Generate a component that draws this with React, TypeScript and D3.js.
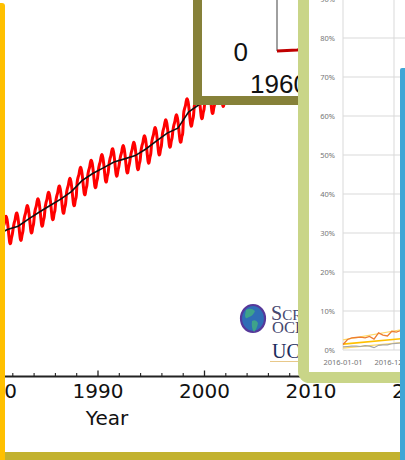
import React from 'react';
import * as d3 from 'd3';

const W = 405;
const H = 460;

// Keeling curve (Mauna Loa) – annual means + mean seasonal cycle
const co2Years = [1980, 1981, 1982, 1983, 1984, 1985, 1986, 1987, 1988, 1989, 1990, 1991, 1992, 1993, 1994, 1995, 1996, 1997, 1998, 1999, 2000, 2001, 2002, 2003, 2004, 2005];
const co2AnnualMean = [338.91, 340.11, 340.86, 342.53, 344.07, 345.54, 346.97, 348.68, 351.16, 352.78, 354.05, 355.39, 356.09, 356.83, 358.33, 360.17, 361.93, 363.05, 366.7, 368.38, 369.55, 371.14, 373.28, 375.8, 377.52, 379.8];
const co2Seasonal = [-0.4, 0.7, 1.4, 2.5, 3.0, 2.3, 0.8, -1.2, -2.9, -3.1, -1.9, -1.0];
const keelingMajorTicks = [1980, 1990, 2000, 2010, 2020];
const keelingMinorTicks = [1982, 1984, 1986, 1988, 1992, 1994, 1996, 1998, 2002, 2004, 2006, 2008, 2012, 2014, 2016, 2018];

// Inset chart
const insetYears = [1960, 1962, 1964, 1966, 1968];
const insetValues = [0, 0.2, 0.5, 1.0, 1.5];
const insetYTicks = [0];
const insetXTicks = [1960];

// Share chart (percent)
const shareDates = ['2016-01-01', '2016-02-01', '2016-03-01', '2016-04-01', '2016-05-01', '2016-06-01', '2016-07-01', '2016-08-01', '2016-09-01', '2016-10-01', '2016-11-01', '2016-12-01', '2017-01-01', '2017-02-01'];
const shareOrange = [1.4, 2.7, 3.1, 3.2, 3.3, 3.1, 3.5, 2.8, 4.4, 3.8, 3.6, 4.8, 4.6, 5.0];
const shareGray = [0.8, 0.9, 1.0, 1.0, 0.9, 1.1, 1.0, 0.6, 1.2, 1.3, 1.3, 1.6, 1.7, 1.8];
const trendDates = ['2016-01-01', '2017-02-01'];
const trendMid = [1.5, 2.9];
const trendUpper = [2.6, 5.2];
const trendLower = [0.5, 1.9];
const pctTicks = [0, 10, 20, 30, 40, 50, 60, 70, 80, 90];
const dateTicks = ['2016-01-01', '2016-12-16'];

export default function App() {
  // Keeling scales
  const kx = d3.scaleLinear().domain([1980, 2020]).range([-8.5, 417.5]);
  const ky = d3.scaleLinear().domain([340, 370]).range([230, 97.4]);
  const axisY = 376.5;

  const monthly: [number, number][] = [];
  co2Years.forEach((yr, i) => {
    co2Seasonal.forEach((s, m) => {
      monthly.push([yr + (m + 0.5) / 12, co2AnnualMean[i] + s]);
    });
  });
  const annual: [number, number][] = co2Years.map((yr, i) => [yr + 0.5, co2AnnualMean[i]]);
  const redLine = d3.line<[number, number]>().x(d => kx(d[0])).y(d => ky(d[1])).curve(d3.curveCardinal);
  const blackLine = d3.line<[number, number]>().x(d => kx(d[0])).y(d => ky(d[1]));

  // Inset scales
  const ix = d3.scaleLinear().domain([1960, 2020]).range([277, 577]);
  const iy = d3.scaleLinear().domain([0, 10]).range([51, 31]);
  const insetLine = d3.line<number>().x((_, i) => ix(insetYears[i])).y(d => iy(d));

  // Share chart scales
  const parse = d3.timeParse('%Y-%m-%d');
  const sx = d3.scaleTime().domain([parse(dateTicks[0])!, parse(dateTicks[1])!]).range([343, 394]);
  const sy = d3.scaleLinear().domain([0, 90]).range([350, -1]);
  const sLine = (dates: string[], vals: number[]) =>
    d3.line<number>().x((_, i) => sx(parse(dates[i])!)).y(d => sy(d))(vals) || '';

  return (
    <svg width={W} height={H} style={{ position: 'absolute', left: 0, top: 0, background: '#fff' }}>
      <defs>
        <clipPath id="logoClip">
          <rect x={230} y={290} width={68} height={80} />
        </clipPath>
      </defs>
      <rect x={0} y={0} width={W} height={H} fill="#fff" />

      {/* ---------- Keeling curve ---------- */}
      <g>
        <path d={redLine(monthly) || ''} fill="none" stroke="#ff0000" strokeWidth={3} />
        <path d={blackLine(annual) || ''} fill="none" stroke="#111" strokeWidth={1.6} />
        <line x1={0} x2={W} y1={axisY} y2={axisY} stroke="#222" strokeWidth={2} />
        {keelingMajorTicks.map(t => (
          <g key={t}>
            <line x1={kx(t)} x2={kx(t)} y1={axisY} y2={axisY - 6} stroke="#222" strokeWidth={1.3} />
            <text x={kx(t)} y={398} textAnchor="middle" fontFamily="DejaVu Sans" fontSize={20} fill="#111">{t}</text>
          </g>
        ))}
        {keelingMinorTicks.map(t => (
          <line key={t} x1={kx(t)} x2={kx(t)} y1={axisY} y2={axisY - 3.5} stroke="#222" strokeWidth={1.1} />
        ))}
        <text x={107} y={425} textAnchor="middle" fontFamily="DejaVu Sans" fontSize={20} fill="#111">Year</text>

        {/* logo */}
        <g clipPath="url(#logoClip)">
          <ellipse cx={253} cy={318.5} rx={12} ry={13.5} fill="#2f6db6" stroke="#56389a" strokeWidth={2.2} />
          <path d="M246,310 q5,-3 9,1 q-2,5 -6,6 q-4,3 -4,-2 z" fill="#3ea38a" />
          <path d="M252,321 q4,-2 6,2 q-1,6 -4,9 q-3,-4 -2,-11 z" fill="#3ea38a" />
          <text x={271} y={320} fontFamily="Liberation Serif" fill="#45476f">
            <tspan fontSize={20}>S</tspan><tspan fontSize={15}>CR</tspan>
          </text>
          <text x={272} y={333} fontFamily="Liberation Serif" fontSize={16.5} fill="#45476f">OCE</text>
          <text x={272} y={358} fontFamily="Liberation Serif" fontSize={20} fill="#1c2b5c">UC</text>
          <line x1={270} x2={340} y1={361.5} y2={361.5} stroke="#e8c88a" strokeWidth={1} />
        </g>
      </g>

      {/* ---------- Inset ---------- */}
      <g>
        <rect x={197.5} y={-20} width={220} height={120.5} fill="#fff" stroke="#868139" strokeWidth={9} />
        <line x1={ix(1960)} x2={ix(1960)} y1={0} y2={iy(0)} stroke="#808080" strokeWidth={1.5} />
        <path d={insetLine(insetValues) || ''} fill="none" stroke="#c00000" strokeWidth={3} />
        {insetYTicks.map(t => (
          <text key={t} x={248} y={iy(t) + 10} textAnchor="end" fontFamily="Liberation Sans" fontSize={26} fill="#111">{t}</text>
        ))}
        {insetXTicks.map(t => (
          <text key={t} x={ix(t) + 2} y={93} textAnchor="middle" fontFamily="Liberation Sans" fontSize={26} fill="#111">{t}</text>
        ))}
      </g>

      {/* ---------- Share chart panel ---------- */}
      <g>
        <rect x={303.5} y={-30} width={220} height={407.5} rx={6} fill="#fff" stroke="#c9d588" strokeWidth={11} />
        {pctTicks.map(t => (
          <g key={t}>
            <line x1={343} x2={W} y1={sy(t)} y2={sy(t)} stroke="#d9d9d9" strokeWidth={1} />
            <text x={335} y={sy(t) + 2.6} textAnchor="end" fontFamily="Noto Sans" fontSize={7.5} fill="#767676">{t}%</text>
          </g>
        ))}
        {dateTicks.map(d => (
          <g key={d}>
            <line x1={sx(parse(d)!)} x2={sx(parse(d)!)} y1={-10} y2={sy(0)} stroke="#d9d9d9" strokeWidth={1} />
            <text x={sx(parse(d)!)} y={364.5} textAnchor="middle" fontFamily="Noto Sans" fontSize={7.5} fill="#767676">{d}</text>
          </g>
        ))}
        <path d={sLine(trendDates, trendUpper)} fill="none" stroke="#ffd966" strokeWidth={1.2} />
        <path d={sLine(trendDates, trendLower)} fill="none" stroke="#ffd966" strokeWidth={1.2} />
        <path d={sLine(shareDates, shareGray)} fill="none" stroke="#a5a5a5" strokeWidth={1.2} />
        <path d={sLine(trendDates, trendMid)} fill="none" stroke="#ffc000" strokeWidth={1.6} />
        <path d={sLine(shareDates, shareOrange)} fill="none" stroke="#ed7d31" strokeWidth={1.3} />
      </g>

      {/* ---------- frame bars ---------- */}
      <rect x={5} y={452} width={396} height={8} fill="#c2b22f" />
      <rect x={400} y={68} width={10} height={400} rx={2} fill="#3fa6d6" />
      <rect x={-5} y={3} width={10} height={460} rx={3} fill="#ffc000" />
    </svg>
  );
}
